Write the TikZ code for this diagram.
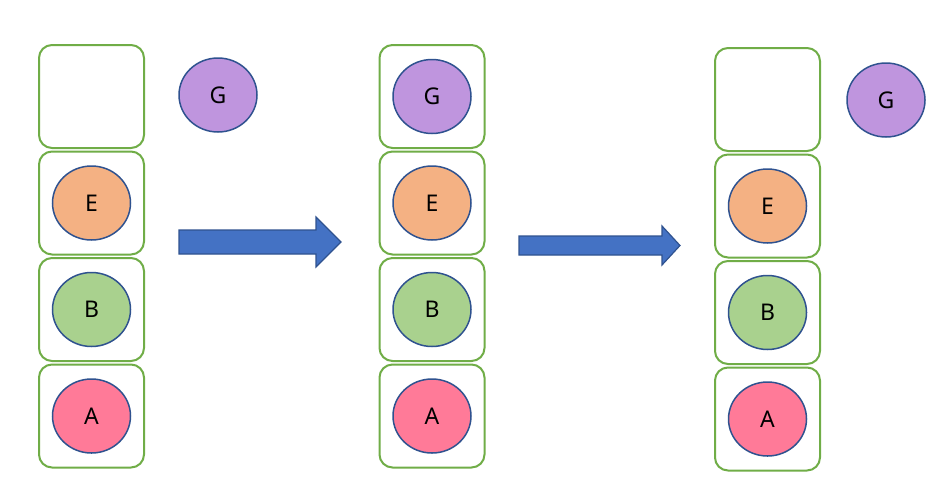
\documentclass[tikz,border=0pt]{standalone}
\usepackage{fontspec}
\setmainfont{Noto Sans}
\usepackage{tikz}
\usetikzlibrary{positioning,shapes.geometric}
\definecolor{slotgreen}{HTML}{70AD47}
\definecolor{ringblue}{HTML}{2F528F}
\definecolor{arrowblue}{HTML}{4472C4}
\definecolor{itemG}{HTML}{BF95DE}
\definecolor{itemE}{HTML}{F4B183}
\definecolor{itemB}{HTML}{A9D18E}
\definecolor{itemA}{HTML}{FF7A98}
\tikzset{
  slot/.style={draw=slotgreen, line width=2pt, rounded corners=13pt, fill=white,
    minimum width=105pt, minimum height=103pt, inner sep=0pt},
  item/.style={ellipse, draw=ringblue, line width=1.5pt, minimum width=78pt,
    minimum height=74pt, inner sep=0pt, font=\fontsize{23}{27}\selectfont},
  blockarrow/.style={draw=ringblue, line width=1.2pt, fill=arrowblue}
}

\begin{document}
\begin{tikzpicture}[x=1pt, y=-1pt, node distance=1.5pt]
    \useasboundingbox (0,0) rectangle (941,499);

    % before
    \node[slot] (s03) at (91.5,96.5) {};
    \node[slot, below=of s03] (s02) {};
    \node[slot, below=of s02] (s01) {};
    \node[slot, below=of s01] (s00) {};
    \node[item, fill=itemE] (e0) at (s02) {E};
    \node[item, fill=itemB] (b0) at (s01) {B};
    \node[item, fill=itemA] (a0) at (s00) {A};
    \node[item, fill=itemG] (g0) at (218,95) {G};

    % pushed
    \node[slot] (s13) at (432,96.5) {};
    \node[slot, below=of s13] (s12) {};
    \node[slot, below=of s12] (s11) {};
    \node[slot, below=of s11] (s10) {};
    \node[item, fill=itemG] (g1) at (s13) {G};
    \node[item, fill=itemE] (e1) at (s12) {E};
    \node[item, fill=itemB] (b1) at (s11) {B};
    \node[item, fill=itemA] (a1) at (s10) {A};

    % popped
    \node[slot] (s23) at (767.5,99.5) {};
    \node[slot, below=of s23] (s22) {};
    \node[slot, below=of s22] (s21) {};
    \node[slot, below=of s21] (s20) {};
    \node[item, fill=itemE] (e2) at (s22) {E};
    \node[item, fill=itemB] (b2) at (s21) {B};
    \node[item, fill=itemA] (a2) at (s20) {A};
    \node[item, fill=itemG] (g2) at (886,100) {G};

    % block arrows
    \draw[blockarrow] (179,230) -- (316,230) -- (316,217) -- (341,242)
        -- (316,267) -- (316,254) -- (179,254) -- cycle;
    \draw[blockarrow] (519,236) -- (662,236) -- (662,226) -- (680,245.5)
        -- (662,265) -- (662,255) -- (519,255) -- cycle;
\end{tikzpicture}
\end{document}
